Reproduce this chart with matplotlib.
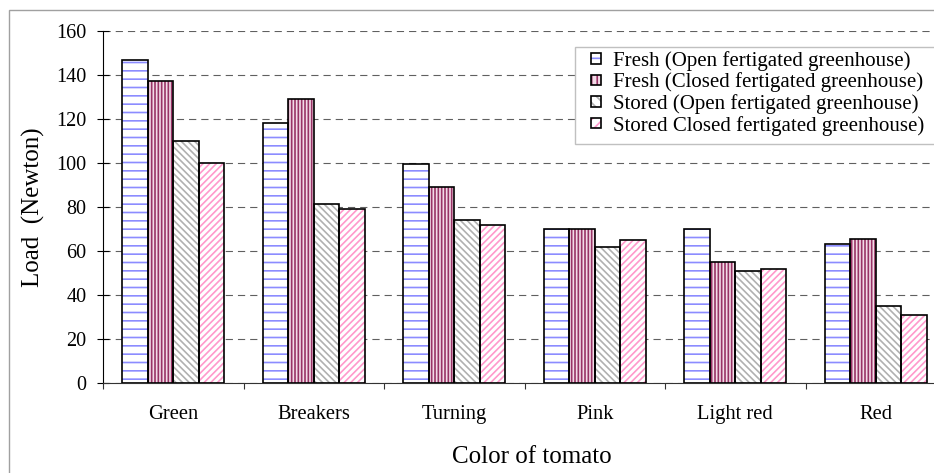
import matplotlib
matplotlib.use("Agg")
import matplotlib.pyplot as plt
import numpy as np
from matplotlib.patches import Patch, Rectangle
from matplotlib.legend_handler import HandlerTuple

# Tomato firmness: load at failure by ripeness stage
categories = ["Green", "Breakers", "Turning", "Pink", "Light red", "Red"]
series_names = [
    "Fresh (Open fertigated greenhouse)",
    "Fresh (Closed fertigated greenhouse)",
    "Stored (Open fertigated greenhouse)",
    "Stored Closed fertigated greenhouse)",
]
fresh_open = [147, 118, 99.5, 70, 70, 63]
fresh_closed = [137.5, 129, 89, 70, 55, 65.5]
stored_open = [110, 81.5, 74, 62, 51, 35]
stored_closed = [100, 79, 72, 65, 52, 31]
y_ticks = [0, 20, 40, 60, 80, 100, 120, 140, 160]

series_values = [fresh_open, fresh_closed, stored_open, stored_closed]
face_colors = ["white", "#f3dce8", "white", "white"]
hatch_colors = ["#8c8cff", "#993366", "#b0b0b0", "#ff99cc"]
hatches = ["--", "|||||", "\\\\\\\\\\", "/////"]
legend_hatches = ["-", "|||", "\\\\\\", "///"]

SERIF = ["Liberation Serif", "DejaVu Serif"]
plt.rcParams["font.family"] = SERIF
plt.rcParams["hatch.linewidth"] = 1.2
plt.rcParams["lines.scale_dashes"] = False

W, H, DPI = 934, 473, 100
fig = plt.figure(figsize=(W / DPI, H / DPI), dpi=DPI)

# plot area in pixels: left 103, right 946 (runs past the image edge), top 31, bottom 383
ax_l, ax_r, ax_t, ax_b = 103, 946, 31, 383
ax = fig.add_axes([ax_l / W, (H - ax_b) / H, (ax_r - ax_l) / W, (ax_b - ax_t) / H])

# outer chart border
fig.patches.append(Rectangle((8.5 / W, -0.1), 1.2, (H - 10.5) / H + 0.1,
                             transform=fig.transFigure, fill=False,
                             edgecolor="#a0a0a0", linewidth=1.0, zorder=0))

x = np.arange(len(categories))
bw = 0.1815
offsets = (np.arange(4) - 1.5) * bw

handles = []
for i, vals in enumerate(series_values):
    ax.bar(x + offsets[i], vals, width=bw, facecolor=face_colors[i],
           edgecolor=hatch_colors[i], hatch=hatches[i], linewidth=0, zorder=2)
    ax.bar(x + offsets[i], vals, width=bw, fill=False,
           edgecolor="black", linewidth=1.2, zorder=3)
    h1 = Patch(facecolor=face_colors[i], edgecolor=hatch_colors[i],
               hatch=legend_hatches[i], linewidth=0)
    h2 = Patch(fill=False, edgecolor="black", linewidth=1.2)
    handles.append((h1, h2))

ax.set_xlim(-0.5, len(categories) - 0.5)
ax.set_ylim(0, 160)
ax.set_yticks(y_ticks)
ax.set_yticklabels([str(v) for v in y_ticks])
ax.set_xticks(x)
ax.set_xticklabels(categories)
ax.set_xticks(np.arange(len(categories) + 1) - 0.5, minor=True)

ax.tick_params(axis="y", which="major", direction="inout", length=8, width=0.8,
               pad=8, labelsize=14.5, colors="black", labelfontfamily=SERIF[0])
ax.tick_params(axis="x", which="major", length=0, pad=16, labelsize=14.8,
               labelfontfamily=SERIF[0])
ax.tick_params(axis="x", which="minor", direction="out", length=4, width=0.8,
               color="#333333")

for s in ("top", "right"):
    ax.spines[s].set_visible(False)
ax.spines["left"].set_linewidth(0.8)
ax.spines["bottom"].set_linewidth(0.8)
ax.spines["bottom"].set_color("#333333")

ax.set_axisbelow(True)
ax.yaxis.grid(True, color="#606060", linewidth=0.8, linestyle=(0, (5.2, 3.6)))
ax.patch.set_visible(False)

ax.set_xlabel("Color of tomato", fontsize=18, fontfamily=SERIF[0])
ax.xaxis.set_label_coords((532 - ax_l) / (ax_r - ax_l), (ax_b - 457) / (ax_b - ax_t))
ax.xaxis.label.set_va("center")
ax.set_ylabel("Load  (Newton)", fontsize=18, fontfamily=SERIF[0])
ax.yaxis.set_label_coords((33 - ax_l) / (ax_r - ax_l), 0.5)
ax.yaxis.label.set_va("center")

# legend frame
fig.patches.append(Rectangle((574.5 / W, (H - 144.5) / H), 0.5, 97 / H,
                             transform=fig.transFigure, facecolor="white",
                             edgecolor="#c0c0c0", linewidth=1.0, zorder=4))
leg = fig.legend(handles, series_names, handler_map={tuple: HandlerTuple(ndivide=1, pad=0)},
                 loc="upper left", bbox_to_anchor=(591 / W, (H - 51) / H),
                 frameon=False, prop={"family": SERIF[0], "size": 15},
                 borderpad=0, borderaxespad=0,
                 handlelength=0.5, handleheight=0.4, handletextpad=0.55,
                 labelspacing=0.08)
leg.set_zorder(5)

fig.savefig("out.png", dpi=DPI)
